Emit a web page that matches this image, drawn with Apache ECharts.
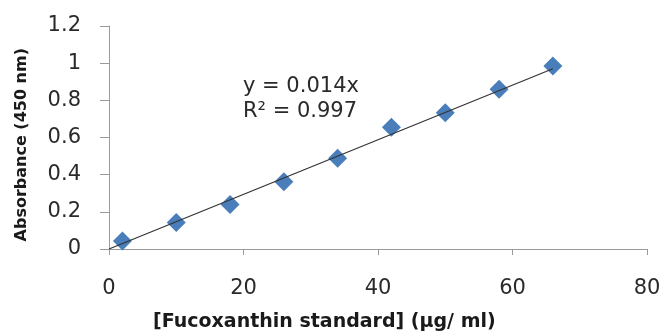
<!DOCTYPE html>
<html>
<head>
<meta charset="utf-8">
<script src="https://cdn.jsdelivr.net/npm/echarts@6/dist/echarts.min.js"></script>
<style>
  html, body { margin: 0; padding: 0; background: #fff; }
  #main { width: 662px; height: 334px; }
</style>
</head>
<body>
<div id="main"></div>
<script>
// standard curve readings
let concentration = [2, 10, 18, 26, 34, 42, 50, 58, 66];
let absorbance = [0.043, 0.142, 0.24, 0.362, 0.488, 0.655, 0.733, 0.86, 0.985];

// linear trendline ends, as drawn
let trendX = [0, 66];
let trendY = [0, 0.97];

let xTicks = [0, 20, 40, 60, 80];
let yTicks = [0, 0.2, 0.4, 0.6, 0.8, 1, 1.2];

let equationLines = ['y = 0.014x', 'R\u00b2 = 0.997'];

let chart = echarts.init(document.getElementById('main'));

let axisColor = '#9a9a9a';
let labelFont = 'DejaVu Sans';

chart.setOption({
  animation: false,
  grid: {
    left: 109,
    right: 15,
    top: 26,
    bottom: 85,
    outerBoundsMode: 'none'
  },
  xAxis: {
    type: 'value',
    min: xTicks[0],
    max: xTicks[xTicks.length - 1],
    interval: 20,
    splitLine: {show: false},
    axisLine: {lineStyle: {color: axisColor, width: 1}},
    axisTick: {show: true, length: 6, lineStyle: {color: axisColor}},
    axisLabel: {
      margin: 29,
      fontFamily: labelFont,
      fontSize: 21,
      color: '#2a2a2a'
    }
  },
  yAxis: {
    type: 'value',
    min: yTicks[0],
    max: yTicks[yTicks.length - 1],
    interval: 0.2,
    splitLine: {show: false},
    axisLine: {show: true, lineStyle: {color: axisColor, width: 1}},
    axisTick: {show: true, length: 9, lineStyle: {color: axisColor}},
    axisLabel: {
      margin: 28,
      fontFamily: labelFont,
      fontSize: 21,
      color: '#2a2a2a',
      formatter: function (v) { return String(Math.round(v * 10) / 10); }
    }
  },
  graphic: [
    {
      type: 'text',
      left: 243,
      top: 74,
      style: {
        text: equationLines.join('\n'),
        font: '21px "DejaVu Sans"',
        lineHeight: 25,
        fill: '#2a2a2a'
      }
    },
    {
      type: 'text',
      left: 153,
      top: 313,
      style: {
        text: '[Fucoxanthin standard] (\u00b5g/ ml)',
        font: 'bold 19px "DejaVu Sans"',
        fill: '#1a1a1a'
      }
    },
    {
      type: 'text',
      left: 14,
      top: 48,
      rotation: Math.PI / 2,
      style: {
        text: 'Absorbance (450 nm)',
        font: 'bold 16px "DejaVu Sans"',
        fill: '#1a1a1a'
      }
    }
  ],
  series: [
    {
      name: 'trend',
      type: 'line',
      data: trendX.map((x, i) => [x, trendY[i]]),
      symbol: 'none',
      lineStyle: {color: '#333', width: 1.2},
      z: 3
    },
    {
      name: 'standard',
      type: 'scatter',
      data: concentration.map((x, i) => [x, absorbance[i]]),
      symbol: 'diamond',
      symbolSize: [19, 19],
      itemStyle: {color: '#4a7ebb', opacity: 1},
      z: 2
    }
  ]
});
</script>
</body>
</html>
